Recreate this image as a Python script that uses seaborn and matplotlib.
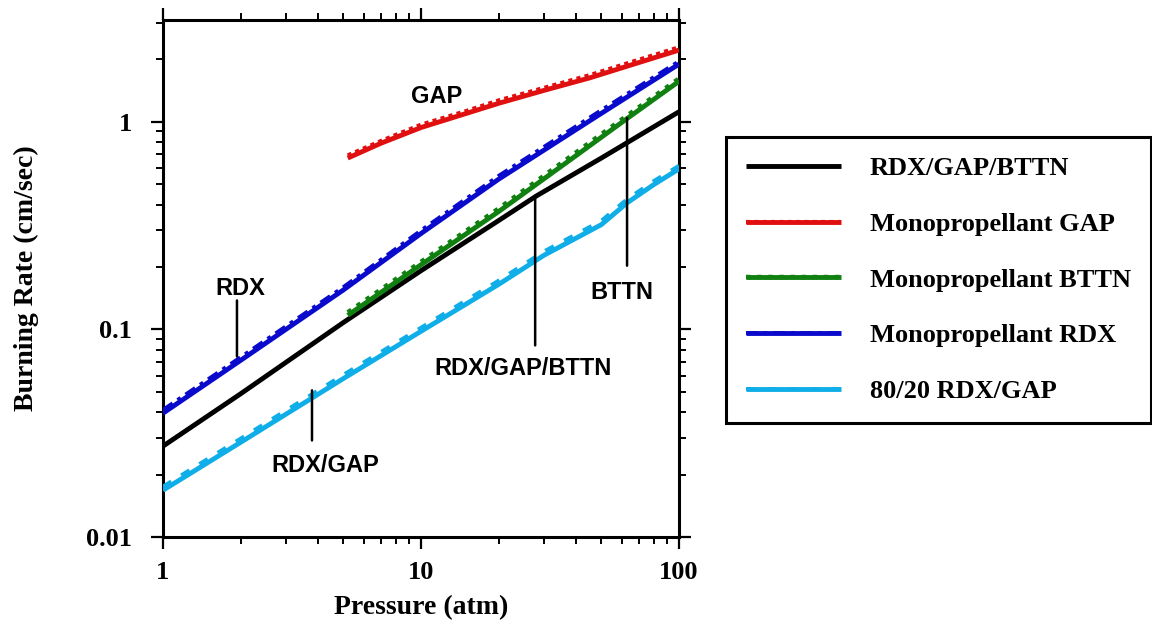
import matplotlib
matplotlib.use("Agg")
import matplotlib.pyplot as plt
import seaborn as sns
import pandas as pd
from matplotlib.ticker import LogLocator, FuncFormatter, NullFormatter
from matplotlib.legend_handler import HandlerTuple

# ---------------- data ----------------
pressure_blend = [1, 2, 5, 10, 20, 28, 50, 100]
rate_blend = [0.0274, 0.049, 0.108, 0.192, 0.335, 0.44, 0.67, 1.12]

pressure_gap = [5.2, 7, 10, 15, 20, 30, 45, 65, 100]
rate_gap = [0.67, 0.79, 0.94, 1.10, 1.23, 1.42, 1.63, 1.88, 2.22]
rate_gap_alt = [0.69, 0.81, 0.97, 1.13, 1.27, 1.46, 1.68, 1.94, 2.29]

pressure_bttn = [5.2, 10, 20, 40, 63, 100]
rate_bttn = [0.117, 0.205, 0.37, 0.69, 1.04, 1.57]
rate_bttn_alt = [0.121, 0.212, 0.383, 0.715, 1.075, 1.62]

pressure_rdx = [1, 2, 5, 10, 20, 50, 100]
rate_rdx = [0.0395, 0.071, 0.155, 0.29, 0.53, 1.10, 1.90]
rate_rdx_alt = [0.041, 0.0735, 0.160, 0.30, 0.55, 1.14, 1.96]

pressure_8020 = [1, 2, 5, 10, 20, 30, 50, 63, 80, 100]
rate_8020 = [0.0168, 0.0286, 0.058, 0.098, 0.165, 0.228, 0.32, 0.408, 0.50, 0.594]
rate_8020_alt = [0.0175, 0.0298, 0.0605, 0.102, 0.172, 0.238, 0.334, 0.425, 0.52, 0.615]

legend_labels = ["RDX/GAP/BTTN", "Monopropellant GAP", "Monopropellant BTTN",
                 "Monopropellant RDX", "80/20 RDX/GAP"]

# annotation texts and leader lines (data coordinates)
annot_texts = ["GAP", "RDX", "BTTN", "RDX/GAP/BTTN", "RDX/GAP"]
annot_text_x = [11.5, 1.99, 60.1, 24.9, 4.25]
annot_text_y = [1.32, 0.157, 0.151, 0.065, 0.0222]
leader_x = [None, 1.935, 62.9, 27.7, 3.78]
leader_top = [None, 0.138, 1.045, 0.427, 0.0509]
leader_bot = [None, 0.0741, 0.203, 0.0838, 0.0292]

# ---------------- style ----------------
sns.set_style("ticks")
plt.rcParams['font.family'] = ['Liberation Serif', 'DejaVu Serif']
plt.rcParams['font.weight'] = 'bold'
plt.rcParams['axes.linewidth'] = 2.2
plt.rcParams['text.color'] = 'black'
plt.rcParams['axes.labelcolor'] = 'black'
plt.rcParams['xtick.color'] = 'black'
plt.rcParams['ytick.color'] = 'black'
plt.rcParams['axes.edgecolor'] = 'black'

BLACK = "#000000"
RED = "#e01010"
GREEN = "#108010"
BLUE = "#0a0acc"
LBLUE = "#10aee8"

fig = plt.figure(figsize=(11.52, 6.25), dpi=100)
ax = fig.add_axes([163 / 1152, 88 / 625, 516 / 1152, 517 / 625])
ax.set_xscale("log")
ax.set_yscale("log")


def draw(x, y, color, lw, ls="-", z=3):
    df = pd.DataFrame({"p": x, "r": y})
    sns.lineplot(data=df, x="p", y="r", ax=ax, color=color, lw=lw,
                 linestyle=ls, zorder=z, estimator=None, sort=False,
                 solid_capstyle="butt", dash_capstyle="butt")
    return ax.lines[-1]


h_blend = draw(pressure_blend, rate_blend, BLACK, 3.5)

h_gap_alt = draw(pressure_gap, rate_gap_alt, RED, 3.0, (0, (1, 1)), z=3)
h_gap = draw(pressure_gap, rate_gap, RED, 3.5, "-", z=4)

h_bttn_alt = draw(pressure_bttn, rate_bttn_alt, GREEN, 3.2, (0, (1, 1.5)), z=3)
h_bttn = draw(pressure_bttn, rate_bttn, GREEN, 3.5, "-", z=4)

h_rdx_alt = draw(pressure_rdx, rate_rdx_alt, BLUE, 2.8, (0, (3, 1.5, 1, 1.5)), z=3)
h_rdx = draw(pressure_rdx, rate_rdx, BLUE, 3.5, "-", z=4)

h_8020_alt = draw(pressure_8020, rate_8020_alt, LBLUE, 2.8, (0, (2.5, 3)), z=3)
h_8020 = draw(pressure_8020, rate_8020, LBLUE, 3.5, "-", z=4)

# ---------------- axes ----------------
ax.set_xlim(1, 100)
ax.set_ylim(0.01, 3.1)
ax.xaxis.set_major_locator(LogLocator(base=10))
ax.yaxis.set_major_locator(LogLocator(base=10))
ax.xaxis.set_minor_locator(LogLocator(base=10, subs=range(2, 10)))
ax.yaxis.set_minor_locator(LogLocator(base=10, subs=range(2, 10)))
fmt = FuncFormatter(lambda v, _: f"{v:g}")
ax.xaxis.set_major_formatter(fmt)
ax.yaxis.set_major_formatter(fmt)
ax.xaxis.set_minor_formatter(NullFormatter())
ax.yaxis.set_minor_formatter(NullFormatter())
for s in ax.spines.values():
    s.set_visible(True)
    s.set_linewidth(2.2)
    s.set_color("black")

ax.tick_params(which="major", direction="out", length=8.5, width=1.6,
               top=True, right=True, labelsize=19, colors="black")
ax.tick_params(axis="y", which="major", pad=14)
ax.tick_params(axis="x", which="major", pad=9)
ax.tick_params(which="minor", direction="out", length=5, width=1.4,
               top=True, right=True, colors="black")
for lab in ax.get_xticklabels() + ax.get_yticklabels():
    lab.set_fontweight("bold")

ax.set_xlabel("Pressure (atm)", fontsize=20, fontweight="bold", labelpad=8,
              color="black")
ax.set_ylabel("Burning Rate (cm/sec)", fontsize=20, fontweight="bold",
              labelpad=34, color="black")

# ---------------- annotations ----------------
sans = ["Liberation Sans", "DejaVu Sans"]
for t, tx, ty, lx, lt, lb in zip(annot_texts, annot_text_x, annot_text_y,
                                 leader_x, leader_top, leader_bot):
    ax.text(tx, ty, t, family=sans, fontsize=17, fontweight="bold",
            ha="center", va="center", color="black", zorder=6)
    if lx is not None:
        ax.annotate("", xy=(lx, lt), xytext=(lx, lb),
                    arrowprops=dict(arrowstyle="-", lw=1.8, color="black",
                                    shrinkA=0, shrinkB=0), zorder=5)

# ---------------- legend ----------------
handles = [h_blend, (h_gap_alt, h_gap), (h_bttn_alt, h_bttn),
           (h_rdx_alt, h_rdx), (h_8020_alt, h_8020)]
leg = fig.legend(handles, legend_labels, loc="upper left",
                 bbox_to_anchor=(726 / 1152, 1 - 137 / 625),
                 bbox_transform=fig.transFigure,
                 handler_map={tuple: HandlerTuple(ndivide=1)},
                 prop=dict(family=["Liberation Serif", "DejaVu Serif"],
                           weight="bold", size=19),
                 frameon=True, fancybox=False, framealpha=1,
                 edgecolor="black", borderpad=0.75, handlelength=3.6,
                 handletextpad=1.1, labelspacing=1.22, borderaxespad=0)
leg.get_frame().set_linewidth(2.2)
for t in leg.get_texts():
    t.set_color("black")

fig.savefig("out.png", dpi=100)
